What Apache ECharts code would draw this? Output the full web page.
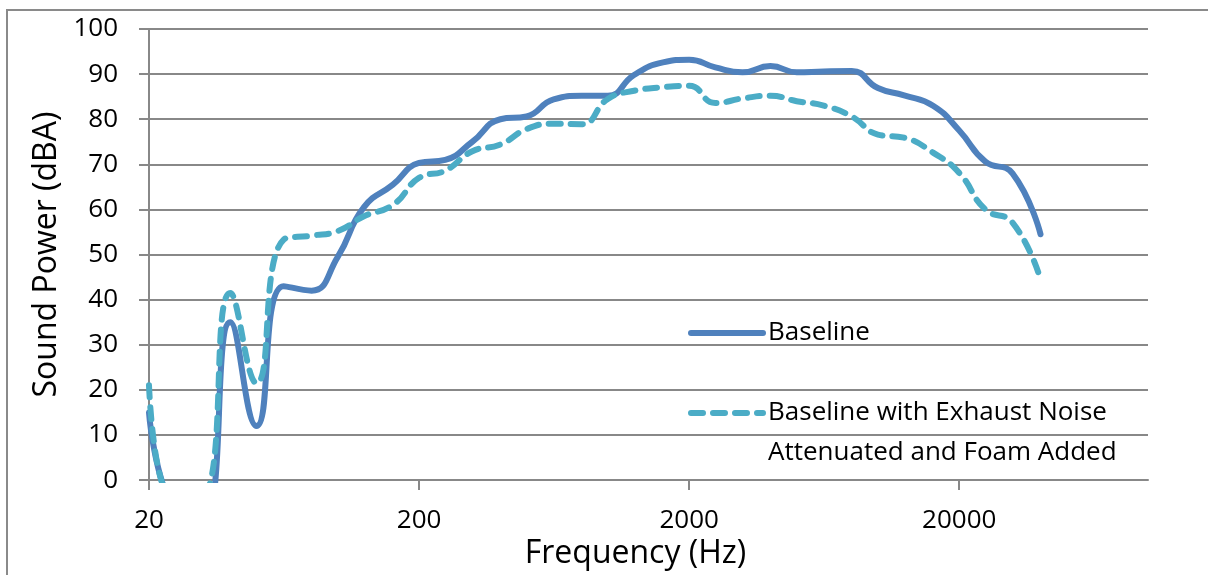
<!DOCTYPE html>
<html>
<head>
<meta charset="utf-8">
<script src="https://cdn.jsdelivr.net/npm/echarts@6/dist/echarts.min.js"></script>
<style>
    html, body { margin: 0; padding: 0; background: #fff; }
    #main { width: 1208px; height: 575px; }
</style>
</head>
<body>
<div id="main"></div>
<script>
// third-octave band centre frequencies (Hz)
let freqs = [20, 25, 31.5, 40, 50, 63, 80, 100, 125, 160, 200, 250, 315, 400, 500, 630, 800,
    1000, 1250, 1600, 2000, 2500, 3150, 4000, 5000, 6300, 8000, 10000, 12500, 16000, 20000,
    25000, 31500, 40000];
let baseline = [15, -7, -9, 35, 12, 43, 42, 49.5, 60.5, 65.5, 70.3, 71, 75, 80, 80.6, 84.4,
    85.2, 85.2, 89.8, 92.6, 93.2, 91.5, 90.4, 91.8, 90.4, 90.6, 90.7, 86.9, 85.3, 83, 77.5,
    70.6, 68, 54.5];
let attenuated = [21, -4.5, -4, 41.5, 21.5, 53.3, 54.2, 55.2, 58.5, 61, 67, 68.6, 72.9, 74.4,
    77.8, 79, 78.9, 84.5, 86.3, 87.1, 87.4, 83.6, 84.6, 85.2, 84, 83, 80.6, 76.6, 75.9, 72.6,
    68.1, 60, 57.1, 44.5];
let xTicks = [20, 200, 2000, 20000];
let xMax = 100000;

let seriesNames = ['Baseline', 'Baseline with Exhaust Noise\nAttenuated and Foam Added'];

// x is plotted as decades above 20 Hz
function toX(f) {
    return Math.log10(f / 20);
}
function toPairs(vals) {
    return vals.map((v, i) => [toX(freqs[i]), v]);
}

let font = 'Open Sans';
let gridColor = '#888888';

var myChart = echarts.init(document.getElementById('main'));
option = {
    backgroundColor: '#fff',
    animation: false,
    textStyle: { fontFamily: font },
    grid: {
        left: 149,
        right: 60,
        top: 29,
        bottom: 93
    },
    graphic: [{
        type: 'rect',
        shape: { x: 7, y: 10, width: 1260, height: 620 },
        style: { fill: null, stroke: '#8a8a8a', lineWidth: 2 },
        silent: true
    }],
    legend: {
        orient: 'vertical',
        left: 688,
        top: 313,
        padding: 0,
        itemGap: 0,
        itemWidth: 72,
        itemHeight: 14,
        icon: 'inherit',
        itemStyle: { opacity: 0 },
        lineStyle: { width: 6, cap: 'round' },
        textStyle: { fontFamily: font, fontSize: 26, color: '#000', lineHeight: 40 },
        // leading blank line keeps the dashed icon level with the first text line
        formatter: function(name) {
            return name === seriesNames[1] ? '\n' + name : name;
        },
        data: seriesNames
    },
    xAxis: {
        type: 'value',
        min: 0,
        max: toX(xMax),
        interval: 1,
        name: 'Frequency (Hz)',
        nameLocation: 'middle',
        nameGap: 56,
        nameTextStyle: { fontFamily: font, fontSize: 32, color: '#000', padding: [0, 26, 0, 0] },
        axisLine: { show: true, onZero: false, lineStyle: { color: gridColor, width: 2 } },
        axisTick: {
            show: true,
            length: 10,
            customValues: xTicks.map(toX),
            lineStyle: { color: gridColor, width: 2 }
        },
        axisLabel: {
            customValues: xTicks.map(toX),
            margin: 27,
            fontFamily: font,
            fontSize: 26,
            color: '#000',
            formatter: function(v) {
                return String(Math.round(20 * Math.pow(10, v)));
            }
        },
        splitLine: { show: false }
    },
    yAxis: {
        type: 'value',
        min: 0,
        max: 100,
        interval: 10,
        name: 'Sound Power (dBA)',
        nameLocation: 'middle',
        nameGap: 86,
        nameTextStyle: { fontFamily: font, fontSize: 32, color: '#000' },
        axisLine: { show: true, lineStyle: { color: gridColor, width: 2 } },
        axisTick: { show: true, length: 10, lineStyle: { color: gridColor, width: 2 } },
        axisLabel: { margin: 31, fontFamily: font, fontSize: 26, color: '#000' },
        splitLine: { show: true, lineStyle: { color: gridColor, width: 2 } }
    },
    series: [
        {
            name: seriesNames[0],
            type: 'line',
            data: toPairs(baseline),
            smooth: true,
            symbol: 'none',
            clip: true,
            lineStyle: { color: '#4F81BD', width: 6, cap: 'round', join: 'round' },
            itemStyle: { color: '#4F81BD' }
        },
        {
            name: seriesNames[1],
            type: 'line',
            data: toPairs(attenuated),
            smooth: true,
            symbol: 'none',
            clip: true,
            lineStyle: { color: '#4BACC6', width: 6, type: [12, 10], cap: 'round', join: 'round' },
            itemStyle: { color: '#4BACC6' }
        }
    ]
};
myChart.setOption(option);
</script>
</body>
</html>
